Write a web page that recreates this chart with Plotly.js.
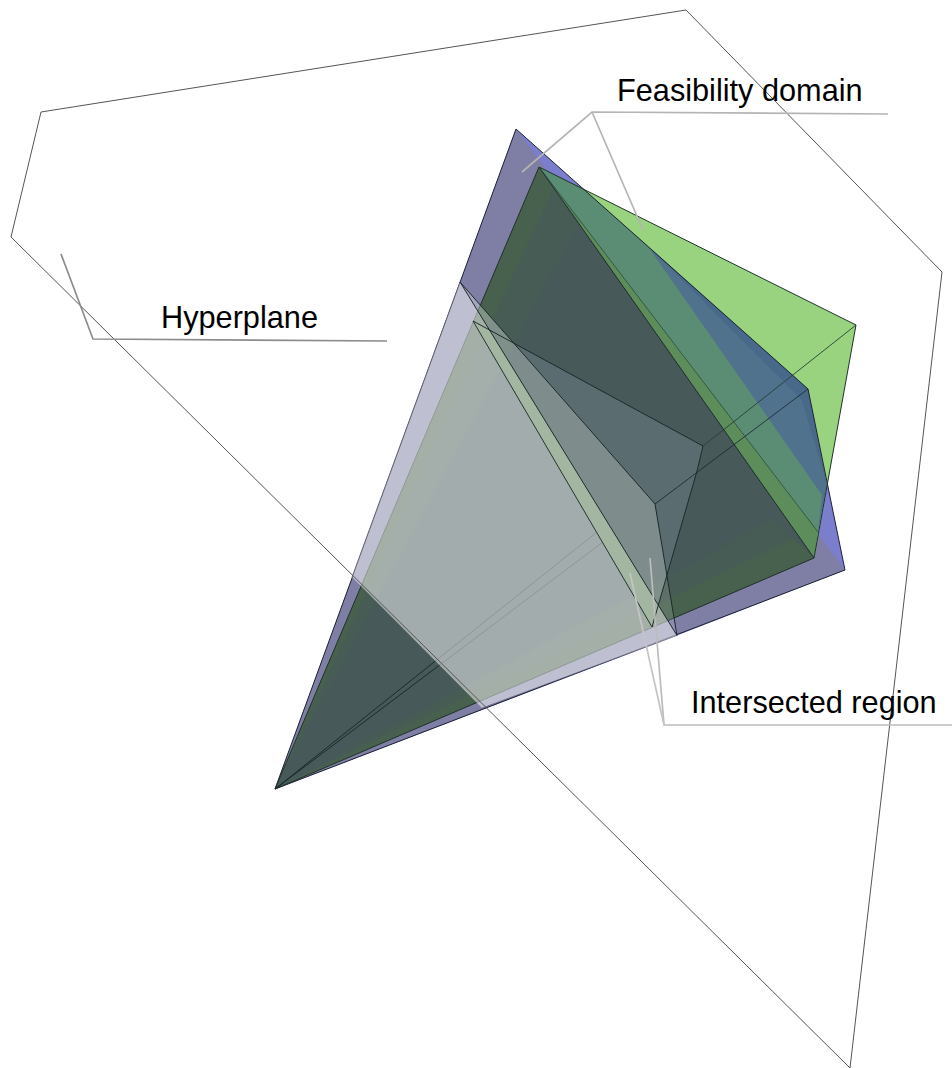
<!DOCTYPE html>
<html><head><meta charset="utf-8">
<script src="https://cdn.plot.ly/plotly-3.0.1.min.js"></script>
<style>html,body{margin:0;padding:0;background:#fff}</style></head>
<body><div id="chart" style="width:952px;height:1068px"></div>
<script>
// Vertices: [x values], [y values]
const hyperplaneX=[41,686,942,850,11,41];
const hyperplaneY=[112,10,272,1068,237,112];
const blueOuterX=[275,516,808,845,677];
const blueOuterY=[789,129,389,570,635.5];
const blueConeX=[275,516,845];
const blueConeY=[789,129,570];
const greenOuterX=[539,856,814];
const greenOuterY=[167,325,558];
const blueGreenX=[583,808,827,818,539];
const blueGreenY=[189,389,485,532,167];
const blueDeepX=[647,808,827,802];
const blueDeepY=[245,389,485,400];
const tealX=[539,583,647,822,818];
const tealY=[167,189,245,495,532];
const greenStripX=[539,818,814];
const greenStripY=[167,532,558];
const darkBodyX=[275,539,814];
const darkBodyY=[789,167,558];
const bandLeftOuterX=[275,539,553];
const bandLeftOuterY=[789,167,189];
const bandLeftInnerX=[275,539,580];
const bandLeftInnerY=[789,167,221];
const bandLowOuterX=[275,814,793];
const bandLowOuterY=[789,558,539];
const bandLowInnerX=[275,814,773];
const bandLowInnerY=[789,558,519];
const strutX=[473,490,658,652];
const strutY=[321,330,605,627];
const planeX=[460,677,482,352];
const planeY=[282,635.5,708,577];
const wedgeX=[460,655,667,658];
const wedgeY=[282,504,576,605];
const facetX=[513,703,697,667,655];
const facetY=[343,446,471,576,504];
const cornerX=[667,677,658];
const cornerY=[576,635.5,605];

const fills=[
 [blueOuterX,blueOuterY,'#7b7dcd'],
 [blueConeX,blueConeY,'#7f7ea4'],
 [greenOuterX,greenOuterY,'#99d37f'],
 [blueGreenX,blueGreenY,'#50728c'],
 [blueDeepX,blueDeepY,'#48698a'],
 [tealX,tealY,'#5b8c74'],
 [greenStripX,greenStripY,'#5c8d5a'],
 [darkBodyX,darkBodyY,'#475958'],
 [bandLeftInnerX,bandLeftInnerY,'rgba(75,105,75,0.18)'],
 [bandLeftOuterX,bandLeftOuterY,'rgba(75,105,65,0.35)'],
 [bandLowInnerX,bandLowInnerY,'rgba(75,105,75,0.18)'],
 [bandLowOuterX,bandLowOuterY,'rgba(75,105,65,0.35)'],
 [strutX,strutY,'#466d45']
];
const under=[
 [[275,516,808,845,275],[789,129,389,570,789],'#1d2433',1],
 [[275,539,856,814,275],[789,167,325,558,789],'#1f3329',1],
 [[539,814],[167,558],'#1c2b2b',1],
 [[539,818],[167,532],'#2a4a3a',0.8],
 [[275,597],[789,532],'#1c2b2b',1],
 [[275,603],[789,542],'#1c2b2b',1]
];
const over=[
 [[460,352],[282,577],'rgba(90,90,110,0.6)',1],
 [[460,677],[282,635.5],'#1c2b2b',1],
 [[473,652],[321,627],'#24352f',1],
 [[460,655,667,677],[282,504,576,635.5],'#1c2b2b',1],
 [[473,703,697,652],[321,446,471,627],'#1c2b2b',1],
 [[703,856],[446,325],'#24403a',0.9],
 [[655,808],[504,389],'#1c2b3a',0.9],
 [[677,482],[635.5,708],'rgba(90,90,110,0.5)',1]
];
const leadersX=[[522,592,888],[592,643],[61,93,387],[650,664,952],[630,664]];
const leadersY=[[172,112,114],[112,230],[254,339,341],[558,725,725],[573,725]];
const leaderColors=['#b4b4b4','#b4b4b4','#8c8c8c','#bcbcbc','#c4c4c4'];
const labels=['Feasibility domain','Hyperplane','Intersected region'];
const labelX=[740,239,814];
const labelY=[90,317,702];

const poly=(x,y,c)=>({type:'scatter',mode:'lines',x:x,y:y,fill:'toself',fillcolor:c,line:{width:0,color:c},hoverinfo:'skip'});
const stroke=(x,y,c,w)=>({type:'scatter',mode:'lines',x:x,y:y,line:{color:c,width:w},hoverinfo:'skip'});
const traces=[];
fills.forEach(f=>traces.push(poly(f[0],f[1],f[2])));
under.forEach(l=>traces.push(stroke(l[0],l[1],l[2],l[3])));
traces.push(poly(cornerX,cornerY,'rgba(255,255,255,0.12)'));
traces.push(poly(wedgeX,wedgeY,'rgba(240,250,245,0.33)'));
traces.push(poly(facetX,facetY,'rgba(190,210,240,0.16)'));
traces.push(poly(planeX,planeY,'rgba(255,255,255,0.5)'));
over.forEach(l=>traces.push(stroke(l[0],l[1],l[2],l[3])));
traces.push(stroke(hyperplaneX,hyperplaneY,'#555555',1));
leadersX.forEach((x,i)=>traces.push(stroke(x,leadersY[i],leaderColors[i],1.7)));

const layout={
 width:952,height:1068,showlegend:false,
 margin:{l:0,r:0,t:0,b:0},
 paper_bgcolor:'#fff',plot_bgcolor:'#fff',
 xaxis:{range:[0,952],visible:false,fixedrange:true},
 yaxis:{range:[1068,0],visible:false,fixedrange:true},
 annotations:labels.map((t,i)=>({text:t,x:labelX[i],y:labelY[i],xref:'x',yref:'y',showarrow:false,xanchor:'center',yanchor:'middle',font:{family:'"Liberation Sans",Arial,sans-serif',size:30.7,color:'#000'}}))
};
Plotly.newPlot('chart',traces,layout,{displayModeBar:false,staticPlot:true});
</script></body></html>
